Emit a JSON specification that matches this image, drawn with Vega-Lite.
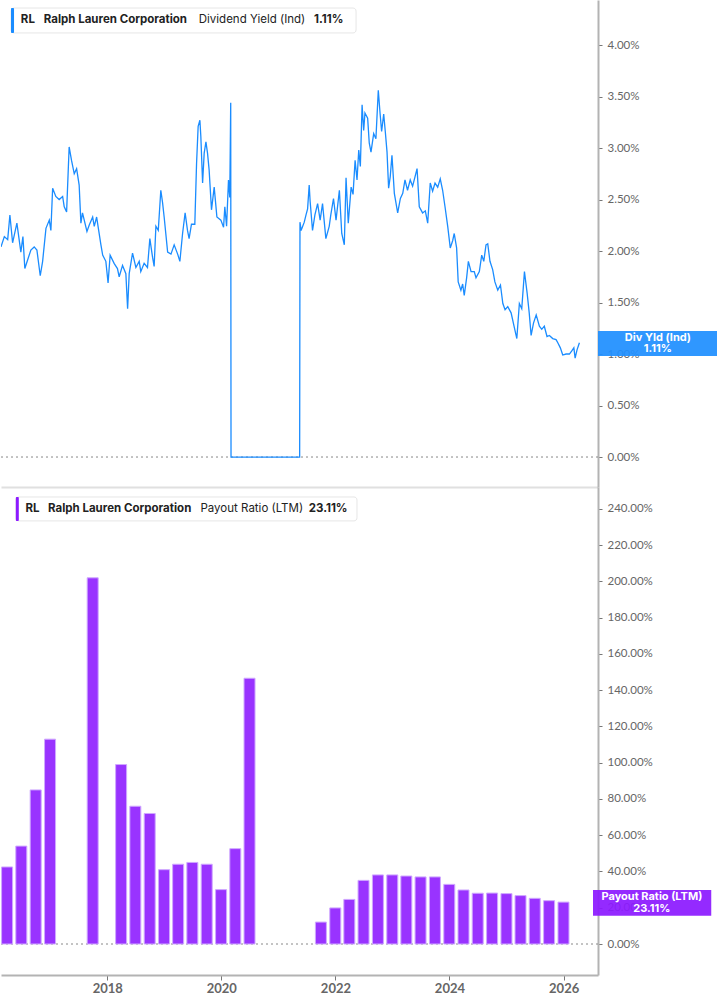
{
  "$schema": "https://vega.github.io/schema/vega-lite/v6.json",
  "padding": 0,
  "spacing": 0,
  "background": "white",
  "config": {"view": {"stroke": null}},
  "datasets": {
    "yield": [
      {"date": "2016-03-24", "yield": 2.04}, {"date": "2016-04-14", "yield": 2.14}, {"date": "2016-05-05", "yield": 2.11},
      {"date": "2016-05-19", "yield": 2.35}, {"date": "2016-06-05", "yield": 2.08}, {"date": "2016-07-02", "yield": 2.27},
      {"date": "2016-07-27", "yield": 1.99}, {"date": "2016-08-09", "yield": 2.14}, {"date": "2016-08-21", "yield": 1.83},
      {"date": "2016-09-28", "yield": 2.01}, {"date": "2016-10-19", "yield": 2.04}, {"date": "2016-11-05", "yield": 2.01},
      {"date": "2016-11-26", "yield": 1.76}, {"date": "2016-12-11", "yield": 1.90}, {"date": "2017-01-01", "yield": 2.22},
      {"date": "2017-01-22", "yield": 2.30}, {"date": "2017-02-01", "yield": 2.20}, {"date": "2017-02-12", "yield": 2.61},
      {"date": "2017-03-04", "yield": 2.53}, {"date": "2017-03-25", "yield": 2.50}, {"date": "2017-04-16", "yield": 2.53},
      {"date": "2017-04-26", "yield": 2.43}, {"date": "2017-05-11", "yield": 2.38}, {"date": "2017-05-27", "yield": 3.01},
      {"date": "2017-06-11", "yield": 2.88}, {"date": "2017-06-28", "yield": 2.75}, {"date": "2017-07-13", "yield": 2.80},
      {"date": "2017-07-29", "yield": 2.64}, {"date": "2017-08-09", "yield": 2.27}, {"date": "2017-08-19", "yield": 2.37},
      {"date": "2017-09-16", "yield": 2.19}, {"date": "2017-09-30", "yield": 2.25}, {"date": "2017-10-22", "yield": 2.33},
      {"date": "2017-11-01", "yield": 2.24}, {"date": "2017-11-16", "yield": 2.33}, {"date": "2017-12-13", "yield": 2.06},
      {"date": "2017-12-24", "yield": 1.96}, {"date": "2018-01-13", "yield": 1.90}, {"date": "2018-01-27", "yield": 1.69},
      {"date": "2018-02-09", "yield": 1.96}, {"date": "2018-03-06", "yield": 1.88}, {"date": "2018-03-27", "yield": 1.83},
      {"date": "2018-04-07", "yield": 1.75}, {"date": "2018-04-28", "yield": 1.86}, {"date": "2018-05-19", "yield": 1.78},
      {"date": "2018-05-30", "yield": 1.44}, {"date": "2018-06-09", "yield": 1.78}, {"date": "2018-06-30", "yield": 1.98},
      {"date": "2018-07-21", "yield": 1.84}, {"date": "2018-08-11", "yield": 1.90}, {"date": "2018-08-21", "yield": 1.80},
      {"date": "2018-09-11", "yield": 1.88}, {"date": "2018-10-02", "yield": 1.84}, {"date": "2018-10-17", "yield": 2.12},
      {"date": "2018-11-03", "yield": 1.94}, {"date": "2018-11-13", "yield": 1.85}, {"date": "2018-11-24", "yield": 2.24},
      {"date": "2018-12-09", "yield": 2.20}, {"date": "2018-12-25", "yield": 2.59}, {"date": "2019-01-05", "yield": 2.47},
      {"date": "2019-01-15", "yield": 2.33}, {"date": "2019-02-06", "yield": 1.99}, {"date": "2019-02-27", "yield": 1.97},
      {"date": "2019-03-19", "yield": 2.06}, {"date": "2019-04-10", "yield": 1.97}, {"date": "2019-04-24", "yield": 1.90},
      {"date": "2019-05-11", "yield": 2.17}, {"date": "2019-05-27", "yield": 2.37}, {"date": "2019-06-11", "yield": 2.20},
      {"date": "2019-06-21", "yield": 2.12}, {"date": "2019-07-06", "yield": 2.26}, {"date": "2019-07-27", "yield": 2.26},
      {"date": "2019-08-07", "yield": 2.85}, {"date": "2019-08-17", "yield": 3.21}, {"date": "2019-08-28", "yield": 3.27},
      {"date": "2019-09-03", "yield": 3.11}, {"date": "2019-09-14", "yield": 2.66}, {"date": "2019-09-24", "yield": 2.95},
      {"date": "2019-10-05", "yield": 3.06}, {"date": "2019-10-15", "yield": 2.95}, {"date": "2019-10-25", "yield": 2.79},
      {"date": "2019-11-09", "yield": 2.40}, {"date": "2019-11-26", "yield": 2.62}, {"date": "2019-12-13", "yield": 2.33},
      {"date": "2020-01-07", "yield": 2.30}, {"date": "2020-01-24", "yield": 2.23}, {"date": "2020-02-01", "yield": 2.43},
      {"date": "2020-02-12", "yield": 2.24}, {"date": "2020-02-24", "yield": 2.69}, {"date": "2020-03-03", "yield": 2.52},
      {"date": "2020-03-09", "yield": 3.44}, {"date": "2020-03-11", "yield": 0}, {"date": "2021-05-17", "yield": 0},
      {"date": "2021-05-19", "yield": 2.28}, {"date": "2021-05-26", "yield": 2.20}, {"date": "2021-06-15", "yield": 2.28},
      {"date": "2021-06-26", "yield": 2.35}, {"date": "2021-07-06", "yield": 2.41}, {"date": "2021-07-16", "yield": 2.64},
      {"date": "2021-07-22", "yield": 2.48}, {"date": "2021-08-06", "yield": 2.20}, {"date": "2021-08-21", "yield": 2.35},
      {"date": "2021-09-07", "yield": 2.46}, {"date": "2021-09-23", "yield": 2.30}, {"date": "2021-10-08", "yield": 2.46},
      {"date": "2021-10-29", "yield": 2.12}, {"date": "2021-11-19", "yield": 2.24}, {"date": "2021-11-29", "yield": 2.35},
      {"date": "2021-12-16", "yield": 2.51}, {"date": "2022-01-01", "yield": 2.30}, {"date": "2022-01-22", "yield": 2.59},
      {"date": "2022-02-06", "yield": 2.17}, {"date": "2022-02-22", "yield": 2.06}, {"date": "2022-03-05", "yield": 2.71},
      {"date": "2022-03-19", "yield": 2.27}, {"date": "2022-04-06", "yield": 2.62}, {"date": "2022-04-18", "yield": 2.55},
      {"date": "2022-05-01", "yield": 2.88}, {"date": "2022-05-13", "yield": 2.69}, {"date": "2022-05-24", "yield": 2.98},
      {"date": "2022-06-03", "yield": 2.82}, {"date": "2022-06-14", "yield": 3.42}, {"date": "2022-06-24", "yield": 3.17},
      {"date": "2022-07-02", "yield": 3.34}, {"date": "2022-07-19", "yield": 3.29}, {"date": "2022-07-29", "yield": 3.05},
      {"date": "2022-08-09", "yield": 2.96}, {"date": "2022-08-26", "yield": 3.14}, {"date": "2022-09-09", "yield": 3.09},
      {"date": "2022-09-24", "yield": 3.56}, {"date": "2022-10-05", "yield": 3.34}, {"date": "2022-10-15", "yield": 3.16},
      {"date": "2022-10-28", "yield": 3.33}, {"date": "2022-11-07", "yield": 3.16}, {"date": "2022-11-18", "yield": 2.96},
      {"date": "2022-11-28", "yield": 2.61}, {"date": "2022-12-08", "yield": 2.72}, {"date": "2022-12-19", "yield": 2.93},
      {"date": "2023-01-03", "yield": 2.56}, {"date": "2023-01-24", "yield": 2.37}, {"date": "2023-02-10", "yield": 2.51},
      {"date": "2023-02-25", "yield": 2.56}, {"date": "2023-03-11", "yield": 2.69}, {"date": "2023-03-27", "yield": 2.59},
      {"date": "2023-04-13", "yield": 2.69}, {"date": "2023-04-28", "yield": 2.63}, {"date": "2023-05-13", "yield": 2.72},
      {"date": "2023-05-26", "yield": 2.80}, {"date": "2023-06-09", "yield": 2.43}, {"date": "2023-06-30", "yield": 2.37},
      {"date": "2023-07-17", "yield": 2.39}, {"date": "2023-08-01", "yield": 2.27}, {"date": "2023-08-17", "yield": 2.66},
      {"date": "2023-09-01", "yield": 2.58}, {"date": "2023-09-16", "yield": 2.66}, {"date": "2023-10-03", "yield": 2.62},
      {"date": "2023-10-19", "yield": 2.70}, {"date": "2023-11-03", "yield": 2.59}, {"date": "2023-11-18", "yield": 2.43},
      {"date": "2023-12-05", "yield": 2.24}, {"date": "2023-12-21", "yield": 2.03}, {"date": "2024-01-05", "yield": 2.10},
      {"date": "2024-01-15", "yield": 2.17}, {"date": "2024-01-30", "yield": 2.03}, {"date": "2024-02-09", "yield": 1.70},
      {"date": "2024-02-26", "yield": 1.62}, {"date": "2024-03-08", "yield": 1.68}, {"date": "2024-03-18", "yield": 1.57},
      {"date": "2024-04-02", "yield": 1.74}, {"date": "2024-04-13", "yield": 1.90}, {"date": "2024-04-30", "yield": 1.80},
      {"date": "2024-05-20", "yield": 1.80}, {"date": "2024-05-31", "yield": 1.74}, {"date": "2024-06-21", "yield": 1.80},
      {"date": "2024-07-06", "yield": 1.96}, {"date": "2024-07-19", "yield": 1.90}, {"date": "2024-08-02", "yield": 2.06},
      {"date": "2024-08-13", "yield": 2.07}, {"date": "2024-08-27", "yield": 1.90}, {"date": "2024-09-13", "yield": 1.82},
      {"date": "2024-09-27", "yield": 1.70}, {"date": "2024-10-15", "yield": 1.62}, {"date": "2024-11-01", "yield": 1.67},
      {"date": "2024-11-16", "yield": 1.49}, {"date": "2024-11-30", "yield": 1.43}, {"date": "2024-12-17", "yield": 1.46},
      {"date": "2025-01-07", "yield": 1.40}, {"date": "2025-01-24", "yield": 1.28}, {"date": "2025-02-12", "yield": 1.15},
      {"date": "2025-02-28", "yield": 1.49}, {"date": "2025-03-15", "yield": 1.44}, {"date": "2025-04-01", "yield": 1.80},
      {"date": "2025-04-18", "yield": 1.59}, {"date": "2025-05-01", "yield": 1.40}, {"date": "2025-05-13", "yield": 1.18},
      {"date": "2025-05-28", "yield": 1.30}, {"date": "2025-06-14", "yield": 1.38}, {"date": "2025-07-04", "yield": 1.27},
      {"date": "2025-07-19", "yield": 1.24}, {"date": "2025-08-04", "yield": 1.27}, {"date": "2025-08-21", "yield": 1.17},
      {"date": "2025-09-05", "yield": 1.18}, {"date": "2025-09-26", "yield": 1.15}, {"date": "2025-10-17", "yield": 1.14},
      {"date": "2025-10-28", "yield": 1.11}, {"date": "2025-11-13", "yield": 1.06}, {"date": "2025-11-28", "yield": 0.99},
      {"date": "2025-12-19", "yield": 1.00}, {"date": "2026-01-09", "yield": 1.00}, {"date": "2026-01-24", "yield": 1.03},
      {"date": "2026-02-06", "yield": 1.06}, {"date": "2026-02-14", "yield": 0.96}, {"date": "2026-02-26", "yield": 1.04},
      {"date": "2026-03-13", "yield": 1.11}
    ],
    "payout": [
      {"date": "2016-03-31", "ratio": 42.5}, {"date": "2016-06-30", "ratio": 54}, {"date": "2016-09-30", "ratio": 85},
      {"date": "2016-12-31", "ratio": 113}, {"date": "2017-09-30", "ratio": 202}, {"date": "2018-03-31", "ratio": 99},
      {"date": "2018-06-30", "ratio": 76}, {"date": "2018-09-30", "ratio": 72}, {"date": "2018-12-31", "ratio": 41},
      {"date": "2019-03-31", "ratio": 44}, {"date": "2019-06-30", "ratio": 45}, {"date": "2019-09-30", "ratio": 44},
      {"date": "2019-12-31", "ratio": 30}, {"date": "2020-03-31", "ratio": 52.6}, {"date": "2020-06-30", "ratio": 146.6},
      {"date": "2021-09-30", "ratio": 12.1}, {"date": "2021-12-31", "ratio": 19.9}, {"date": "2022-03-31", "ratio": 24.6},
      {"date": "2022-06-30", "ratio": 35.1}, {"date": "2022-09-30", "ratio": 38.1}, {"date": "2022-12-31", "ratio": 38.1},
      {"date": "2023-03-31", "ratio": 37.5}, {"date": "2023-06-30", "ratio": 37.0}, {"date": "2023-09-30", "ratio": 37.0},
      {"date": "2023-12-31", "ratio": 32.9}, {"date": "2024-03-31", "ratio": 29.8}, {"date": "2024-06-30", "ratio": 28.0},
      {"date": "2024-09-30", "ratio": 28.1}, {"date": "2024-12-31", "ratio": 27.8}, {"date": "2025-03-31", "ratio": 26.7},
      {"date": "2025-06-30", "ratio": 25.2}, {"date": "2025-09-30", "ratio": 23.9}, {"date": "2025-12-31", "ratio": 23.11}
    ]
  },
  "vconcat": [
    {
      "width": 597,
      "height": 487,
      "layer": [
        {
          "data": {"values": [{}]},
          "mark": {"type": "rule", "stroke": "#888888", "strokeDash": [2, 3], "strokeWidth": 1},
          "encoding": {"y": {"datum": 0, "type": "quantitative", "title": null, "scale": {"domain": [-0.291, 4.437], "nice": false, "zero": false}}}
        },
        {
          "data": {"name": "yield"},
          "mark": {"type": "line", "color": "#1a8cff", "strokeWidth": 1.3, "clip": true},
          "encoding": {
            "x": {"field": "date", "type": "temporal", "title": null,
              "scale": {"type": "utc", "domain": [{"year": 2016, "month": 3, "date": 24, "utc": true}, {"year": 2026, "month": 7, "date": 8, "utc": true}]},
              "axis": {"labels": false, "ticks": false, "grid": false, "domainColor": "#e0e0e0", "domainWidth": 2, "title": null}},
            "y": {"field": "yield", "type": "quantitative", "title": null,
              "scale": {"domain": [-0.291, 4.437], "nice": false, "zero": false},
              "axis": {"orient": "right", "values": [0, 0.5, 1, 1.5, 2, 2.5, 3, 3.5, 4], "labelExpr": "format(datum.value, '.2f') + '%'",
                "grid": false, "domainColor": "#b3b3b3", "domainWidth": 2, "tickColor": "#777777", "tickSize": 4,
                "labelColor": "#666666", "labelFont": "Lato", "labelFontSize": 11.5, "labelPadding": 5, "title": null}}
          }
        },
        {
          "data": {"values": [{}]},
          "mark": {"type": "rect", "fill": "white", "stroke": "#e6e6e6", "strokeWidth": 1, "cornerRadius": 3},
          "encoding": {
            "x": {"datum": {"year": 2016, "month": 5, "date": 26, "utc": true}, "type": "temporal", "title": null},
            "x2": {"datum": {"year": 2022, "month": 5, "date": 7, "utc": true}},
            "y": {"datum": 4.117, "type": "quantitative", "title": null},
            "y2": {"datum": 4.359}
          }
        },
        {
          "data": {"values": [{}]},
          "mark": {"type": "rect", "fill": "#1a8cff", "cornerRadius": 1},
          "encoding": {
            "x": {"datum": {"year": 2016, "month": 5, "date": 26, "utc": true}, "type": "temporal", "title": null},
            "x2": {"datum": {"year": 2016, "month": 6, "date": 14, "utc": true}},
            "y": {"datum": 4.117, "type": "quantitative", "title": null},
            "y2": {"datum": 4.359}
          }
        },
        {
          "data": {"values": [{}]},
          "mark": {"type": "text", "text": "RL", "align": "left", "baseline": "middle", "font": "Inter", "fontSize": 11.5, "fontWeight": "bold", "color": "#222222"},
          "encoding": {"x": {"datum": {"year": 2016, "month": 7, "date": 27, "utc": true}, "type": "temporal", "title": null}, "y": {"datum": 4.238, "type": "quantitative", "title": null}}
        },
        {
          "data": {"values": [{}]},
          "mark": {"type": "text", "text": "Ralph Lauren Corporation", "align": "left", "baseline": "middle", "font": "Inter", "fontSize": 11.5, "fontWeight": "bold", "color": "#222222"},
          "encoding": {"x": {"datum": {"year": 2016, "month": 12, "date": 18, "utc": true}, "type": "temporal", "title": null}, "y": {"datum": 4.238, "type": "quantitative", "title": null}}
        },
        {
          "data": {"values": [{}]},
          "mark": {"type": "text", "text": "Dividend Yield (Ind)", "align": "left", "baseline": "middle", "font": "Inter", "fontSize": 11.5, "fontWeight": "normal", "color": "#222222"},
          "encoding": {"x": {"datum": {"year": 2019, "month": 8, "date": 21, "utc": true}, "type": "temporal", "title": null}, "y": {"datum": 4.238, "type": "quantitative", "title": null}}
        },
        {
          "data": {"values": [{}]},
          "mark": {"type": "text", "text": "1.11%", "align": "left", "baseline": "middle", "font": "Inter", "fontSize": 11.5, "fontWeight": "bold", "color": "#222222"},
          "encoding": {"x": {"datum": {"year": 2021, "month": 8, "date": 15, "utc": true}, "type": "temporal", "title": null}, "y": {"datum": 4.238, "type": "quantitative", "title": null}}
        },
        {
          "data": {"values": [{}]},
          "mark": {"type": "rect", "fill": "#1f8fff", "opacity": 0.93},
          "encoding": {
            "x": {"datum": {"year": 2026, "month": 7, "date": 8, "utc": true}, "type": "temporal", "title": null},
            "x2": {"datum": {"year": 2028, "month": 8, "date": 3, "utc": true}},
            "y": {"datum": 0.981, "type": "quantitative", "title": null},
            "y2": {"datum": 1.223}
          }
        },
        {
          "data": {"values": [{}]},
          "mark": {"type": "text", "text": "Div Yld (Ind)", "align": "center", "baseline": "middle", "font": "Inter", "fontSize": 11, "fontWeight": "bold", "color": "white"},
          "encoding": {"x": {"datum": {"year": 2027, "month": 7, "date": 20, "utc": true}, "type": "temporal", "title": null}, "y": {"datum": 1.155, "type": "quantitative", "title": null}}
        },
        {
          "data": {"values": [{}]},
          "mark": {"type": "text", "text": "1.11%", "align": "center", "baseline": "middle", "font": "Inter", "fontSize": 11, "fontWeight": "bold", "color": "white"},
          "encoding": {"x": {"datum": {"year": 2027, "month": 7, "date": 20, "utc": true}, "type": "temporal", "title": null}, "y": {"datum": 1.049, "type": "quantitative", "title": null}}
        }
      ]
    },
    {
      "width": 597,
      "height": 488,
      "layer": [
        {
          "data": {"values": [{}]},
          "mark": {"type": "rule", "stroke": "#888888", "strokeDash": [2, 3], "strokeWidth": 1},
          "encoding": {"y": {"datum": 0, "type": "quantitative", "title": null, "scale": {"domain": [-17.1, 252.1], "nice": false, "zero": false}}}
        },
        {
          "data": {"name": "payout"},
          "mark": {"type": "bar", "width": 11, "color": "#9933ff", "stroke": "#cfa8ff", "strokeWidth": 1, "clip": true},
          "encoding": {
            "x": {"field": "date", "type": "temporal", "title": null,
              "scale": {"type": "utc", "domain": [{"year": 2016, "month": 3, "date": 24, "utc": true}, {"year": 2026, "month": 7, "date": 8, "utc": true}]},
              "axis": {"format": "%Y", "tickCount": {"interval": "year", "step": 2}, "grid": false, "labelColor": "#666666", "labelFont": "Lato",
                "labelFontWeight": "bold", "labelFontSize": 13, "domainColor": "#b3b3b3", "domainWidth": 2, "tickColor": "#777777",
                "tickSize": 5, "labelPadding": 2, "title": null}},
            "y": {"field": "ratio", "type": "quantitative", "title": null,
              "scale": {"domain": [-17.1, 252.1], "nice": false, "zero": false},
              "axis": {"orient": "right", "values": [0, 20, 40, 60, 80, 100, 120, 140, 160, 180, 200, 220, 240], "labelExpr": "format(datum.value, '.2f') + '%'",
                "grid": false, "domainColor": "#b3b3b3", "domainWidth": 2, "tickColor": "#777777", "tickSize": 4,
                "labelColor": "#666666", "labelFont": "Lato", "labelFontSize": 11.5, "labelPadding": 5, "title": null}},
            "y2": {"datum": 0}
          }
        },
        {
          "data": {"values": [{}]},
          "mark": {"type": "rect", "fill": "white", "stroke": "#e6e6e6", "strokeWidth": 1, "cornerRadius": 3},
          "encoding": {
            "x": {"datum": {"year": 2016, "month": 5, "date": 26, "utc": true}, "type": "temporal", "title": null},
            "x2": {"datum": {"year": 2022, "month": 5, "date": 19, "utc": true}},
            "y": {"datum": 233.4, "type": "quantitative", "title": null},
            "y2": {"datum": 246.6}
          }
        },
        {
          "data": {"values": [{}]},
          "mark": {"type": "rect", "fill": "#8c1aff", "cornerRadius": 1},
          "encoding": {
            "x": {"datum": {"year": 2016, "month": 5, "date": 26, "utc": true}, "type": "temporal", "title": null},
            "x2": {"datum": {"year": 2016, "month": 6, "date": 14, "utc": true}},
            "y": {"datum": 233.4, "type": "quantitative", "title": null},
            "y2": {"datum": 246.6}
          }
        },
        {
          "data": {"values": [{}]},
          "mark": {"type": "text", "text": "RL", "align": "left", "baseline": "middle", "font": "Inter", "fontSize": 11.5, "fontWeight": "bold", "color": "#222222"},
          "encoding": {"x": {"datum": {"year": 2016, "month": 7, "date": 27, "utc": true}, "type": "temporal", "title": null}, "y": {"datum": 240, "type": "quantitative", "title": null}}
        },
        {
          "data": {"values": [{}]},
          "mark": {"type": "text", "text": "Ralph Lauren Corporation", "align": "left", "baseline": "middle", "font": "Inter", "fontSize": 11.5, "fontWeight": "bold", "color": "#222222"},
          "encoding": {"x": {"datum": {"year": 2016, "month": 12, "date": 18, "utc": true}, "type": "temporal", "title": null}, "y": {"datum": 240, "type": "quantitative", "title": null}}
        },
        {
          "data": {"values": [{}]},
          "mark": {"type": "text", "text": "Payout Ratio (LTM)", "align": "left", "baseline": "middle", "font": "Inter", "fontSize": 11.5, "fontWeight": "normal", "color": "#222222"},
          "encoding": {"x": {"datum": {"year": 2019, "month": 8, "date": 21, "utc": true}, "type": "temporal", "title": null}, "y": {"datum": 240, "type": "quantitative", "title": null}}
        },
        {
          "data": {"values": [{}]},
          "mark": {"type": "text", "text": "23.11%", "align": "left", "baseline": "middle", "font": "Inter", "fontSize": 11.5, "fontWeight": "bold", "color": "#222222"},
          "encoding": {"x": {"datum": {"year": 2021, "month": 7, "date": 14, "utc": true}, "type": "temporal", "title": null}, "y": {"datum": 240, "type": "quantitative", "title": null}}
        },
        {
          "data": {"values": [{}]},
          "mark": {"type": "rect", "fill": "#8c1aff", "opacity": 0.93},
          "encoding": {
            "x": {"datum": {"year": 2026, "month": 7, "date": 8, "utc": true}, "type": "temporal", "title": null},
            "x2": {"datum": {"year": 2028, "month": 8, "date": 3, "utc": true}},
            "y": {"datum": 15.6, "type": "quantitative", "title": null},
            "y2": {"datum": 29.8}
          }
        },
        {
          "data": {"values": [{}]},
          "mark": {"type": "text", "text": "Payout Ratio (LTM)", "align": "center", "baseline": "middle", "font": "Inter", "fontSize": 11, "fontWeight": "bold", "color": "white"},
          "encoding": {"x": {"datum": {"year": 2027, "month": 7, "date": 20, "utc": true}, "type": "temporal", "title": null}, "y": {"datum": 25.8, "type": "quantitative", "title": null}}
        },
        {
          "data": {"values": [{}]},
          "mark": {"type": "text", "text": "23.11%", "align": "center", "baseline": "middle", "font": "Inter", "fontSize": 11, "fontWeight": "bold", "color": "white"},
          "encoding": {"x": {"datum": {"year": 2027, "month": 7, "date": 20, "utc": true}, "type": "temporal", "title": null}, "y": {"datum": 19.5, "type": "quantitative", "title": null}}
        }
      ]
    }
  ]
}
